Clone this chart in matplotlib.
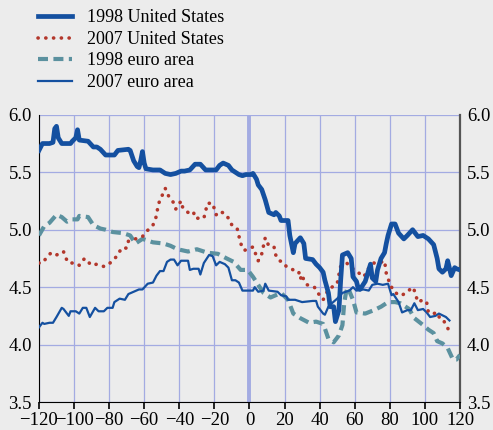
import matplotlib.pyplot as plt
import numpy as np

plt.rcParams["font.family"] = ["Liberation Serif", "DejaVu Serif"]

# 1998 United States
us98_x = [-120, -118, -114, -112, -111, -110, -109, -107, -102, -101, -99, -98, -97, -92, -89, -87,
          -85, -82, -77, -75, -69, -68, -66, -64, -63, -62, -61, -60, -59, -55, -51, -48, -45, -42,
          -39, -37, -34, -31, -28, -25, -19, -17, -15, -12, -10, -6, -4, -2, 1, 2, 4, 5, 7, 9, 11,
          14, 15, 17, 18, 22, 23, 25, 26, 29, 31, 32, 36, 38, 40, 42, 43, 45, 46, 48, 49, 51, 52,
          53, 56, 58, 59, 61, 62, 63, 66, 67, 69, 70, 72, 73, 75, 77, 78, 79, 81, 83, 85, 88, 90,
          93, 96, 99, 102, 105, 107, 108, 110, 112, 113, 115, 117, 118, 120]
us98_y = [5.69, 5.75, 5.75, 5.76, 5.88, 5.90, 5.80, 5.75, 5.75, 5.77, 5.80, 5.87, 5.78, 5.77, 5.72, 5.72,
          5.70, 5.65, 5.65, 5.69, 5.70, 5.69, 5.60, 5.55, 5.54, 5.60, 5.68, 5.58, 5.53, 5.52, 5.52, 5.49, 5.48, 5.49,
          5.51, 5.51, 5.52, 5.57, 5.57, 5.52, 5.52, 5.56, 5.58, 5.56, 5.52, 5.48, 5.47, 5.48, 5.48, 5.49, 5.44, 5.39, 5.35, 5.26, 5.15,
          5.13, 5.15, 5.12, 5.08, 5.08, 4.95, 4.80, 4.88, 4.93, 4.88, 4.75, 4.74, 4.70, 4.67, 4.63, 4.56, 4.45, 4.33, 4.33, 4.20, 4.30, 4.56,
          4.78, 4.80, 4.75, 4.59, 4.55, 4.49, 4.48, 4.55, 4.60, 4.70, 4.58, 4.55, 4.65, 4.75, 4.80, 4.88, 4.95, 5.05, 5.05, 4.97, 4.92, 4.95,
          5.00, 4.94, 4.95, 4.92, 4.87, 4.75, 4.66, 4.63, 4.66, 4.73, 4.60, 4.67, 4.66, 4.65]

# 2007 United States
us07_x = [-120, -118, -115, -113, -110, -106, -105, -103, -99, -97, -94, -92, -90, -87, -83, -81, -78,
          -75, -73, -70, -69, -65, -61, -59, -57, -55, -53, -52, -50, -48, -46, -43, -42, -39, -38, -35,
          -32, -31, -26, -25, -24, -21, -19, -17, -14, -12, -10, -7, -5, -3, -1, 2, 5, 7, 9, 11, 14, 15,
          17, 19, 21, 25, 28, 29, 30, 31, 33, 37, 39, 40, 42, 43, 45, 47, 50, 51, 52, 53, 55, 57, 61,
          65, 66, 67, 71, 74, 77, 78, 80, 82, 85, 87, 90, 93, 94, 96, 99, 101, 102, 105, 107, 109,
          111, 113, 114]
us07_y = [4.71, 4.71, 4.77, 4.80, 4.78, 4.81, 4.76, 4.71, 4.71, 4.69, 4.75, 4.72, 4.69, 4.70, 4.68, 4.69, 4.73,
          4.78, 4.84, 4.84, 4.90, 4.92, 4.94, 4.98, 5.01, 5.04, 5.12, 5.22, 5.29, 5.36, 5.29, 5.23, 5.18, 5.25, 5.19, 5.15,
          5.16, 5.10, 5.10, 5.16, 5.23, 5.23, 5.13, 5.16, 5.14, 5.10, 5.04, 5.01, 4.88, 4.82, 4.83, 4.85, 4.73, 4.79, 4.93, 4.86, 4.85, 4.78,
          4.73, 4.72, 4.68, 4.65, 4.64, 4.57, 4.61, 4.56, 4.52, 4.50, 4.45, 4.43, 4.39, 4.42, 4.48, 4.50, 4.53, 4.61, 4.68, 4.75, 4.72, 4.68, 4.64,
          4.59, 4.61, 4.65, 4.71, 4.71, 4.73, 4.62, 4.53, 4.47, 4.43, 4.43, 4.46, 4.50, 4.47, 4.37, 4.39, 4.37, 4.28, 4.27, 4.28, 4.21,
          4.20, 4.15, 4.08]

# 1998 euro area
eu98_x = [-120, -117, -114, -110, -107, -104, -101, -98, -97, -92, -89, -85, -82, -78, -72, -68, -65,
          -61, -55, -49, -45, -41, -35, -30, -24, -18, -13, -9, -5, -1, 2, 5, 8, 12, 18, 22, 25, 29,
          34, 38, 42, 43, 45, 48, 51, 53, 54, 55, 56, 59, 61, 66, 71, 75, 79, 83, 86, 91, 94, 99, 102,
          105, 107, 110, 113, 116, 118, 120]
eu98_y = [4.95, 5.03, 5.06, 5.13, 5.11, 5.07, 5.09, 5.09, 5.12, 5.11, 5.04, 5.01, 5.00, 4.98, 4.97, 4.95, 4.88,
          4.92, 4.89, 4.88, 4.86, 4.83, 4.81, 4.83, 4.80, 4.79, 4.75, 4.72, 4.65, 4.65, 4.59, 4.52, 4.45, 4.41, 4.45, 4.39, 4.27, 4.23,
          4.19, 4.20, 4.18, 4.14, 4.05, 4.02, 4.08, 4.17, 4.36, 4.45, 4.50, 4.39, 4.28, 4.27, 4.30, 4.33, 4.37, 4.37, 4.36, 4.31, 4.23, 4.17, 4.13,
          4.10, 4.03, 4.01, 3.97, 3.87, 3.87, 3.91]

# 2007 euro area
eu07_x = [-120, -118, -117, -114, -112, -110, -107, -106, -103, -102, -99, -97, -95, -93, -91, -88, -86,
          -83, -81, -78, -77, -74, -71, -69, -66, -63, -61, -58, -55, -53, -51, -49, -47, -45, -43, -41,
          -39, -35, -34, -32, -29, -28, -26, -23, -21, -19, -17, -14, -12, -10, -8, -6, -4, -1, 2, 3, 5,
          8, 9, 11, 16, 18, 21, 22, 26, 30, 36, 38, 39, 42, 43, 45, 47, 50, 53, 57, 59, 61, 65, 68, 70,
          73, 76, 79, 81, 82, 85, 87, 90, 92, 94, 96, 99, 101, 103, 106, 108, 112, 114]
eu07_y = [4.15, 4.19, 4.18, 4.19, 4.19, 4.24, 4.32, 4.31, 4.25, 4.29, 4.29, 4.27, 4.32, 4.32, 4.24, 4.32, 4.29,
          4.29, 4.32, 4.32, 4.37, 4.40, 4.39, 4.44, 4.46, 4.48, 4.48, 4.53, 4.54, 4.60, 4.64, 4.64, 4.72, 4.74, 4.74, 4.69,
          4.73, 4.73, 4.65, 4.66, 4.66, 4.61, 4.71, 4.78, 4.77, 4.69, 4.72, 4.70, 4.67, 4.56, 4.56, 4.54, 4.47, 4.47, 4.47, 4.50, 4.46,
          4.47, 4.53, 4.47, 4.46, 4.43, 4.42, 4.39, 4.39, 4.37, 4.38, 4.38, 4.33, 4.27, 4.26, 4.33, 4.36, 4.40, 4.45, 4.47, 4.50, 4.47, 4.48, 4.47, 4.52,
          4.53, 4.52, 4.53, 4.43, 4.44, 4.37, 4.28, 4.30, 4.30, 4.36, 4.30, 4.31, 4.28, 4.24, 4.25, 4.27, 4.24, 4.21]

BG = "#ececec"
GRID = "#a3abe2"
BLUE = "#1450a0"
RED = "#b3372b"
TEAL = "#5b919f"

fig = plt.figure(figsize=(4.93, 4.30), dpi=100, facecolor=BG)
ax = fig.add_axes([0.079, 0.065, 0.854, 0.668])
ax.set_facecolor(BG)

ax.axvline(0, color=GRID, lw=2.8, zorder=1)
l3, = ax.plot(eu98_x, eu98_y, color=TEAL, lw=3.0, linestyle=(0, (2.4, 1.3)), zorder=3, label="1998 euro area")
l4, = ax.plot(eu07_x, eu07_y, color=BLUE, lw=1.6, zorder=4, label="2007 euro area")
l2, = ax.plot(us07_x, us07_y, color=RED, lw=2.6, linestyle=(0, (0.05, 2.1)), dash_capstyle="round",
              zorder=5, label="2007 United States")
l1, = ax.plot(us98_x, us98_y, color=BLUE, lw=3.4, zorder=6, label="1998 United States")

ax.set_xlim(-120, 120)
ax.set_ylim(3.5, 6.0)
ax.set_xticks(np.arange(-120, 121, 20))
ax.set_yticks(np.arange(3.5, 6.01, 0.5))
ax.set_yticklabels([f"{v:.1f}" for v in np.arange(3.5, 6.01, 0.5)])
ax.grid(True, color=GRID, lw=0.9)
ax.set_axisbelow(True)

ax.spines["top"].set_visible(False)
ax.spines["left"].set_color("black")
ax.spines["bottom"].set_color("black")
ax.spines["right"].set_color("#555555")
ax.spines["right"].set_linewidth(1.6)

ax.tick_params(axis="x", length=5, width=1.2, direction="out", labelsize=13.5, pad=2)
ax.tick_params(axis="y", length=0, labelsize=13.5, pad=5, right=True, labelright=True)

fig.legend(handles=[l1, l2, l3, l4], loc="upper left", bbox_to_anchor=(0.062, 0.995),
           frameon=False, fontsize=13, handlelength=1.9, handletextpad=0.85,
           labelspacing=0.25, borderaxespad=0)

fig.savefig("out.png", dpi=100, facecolor=BG)
